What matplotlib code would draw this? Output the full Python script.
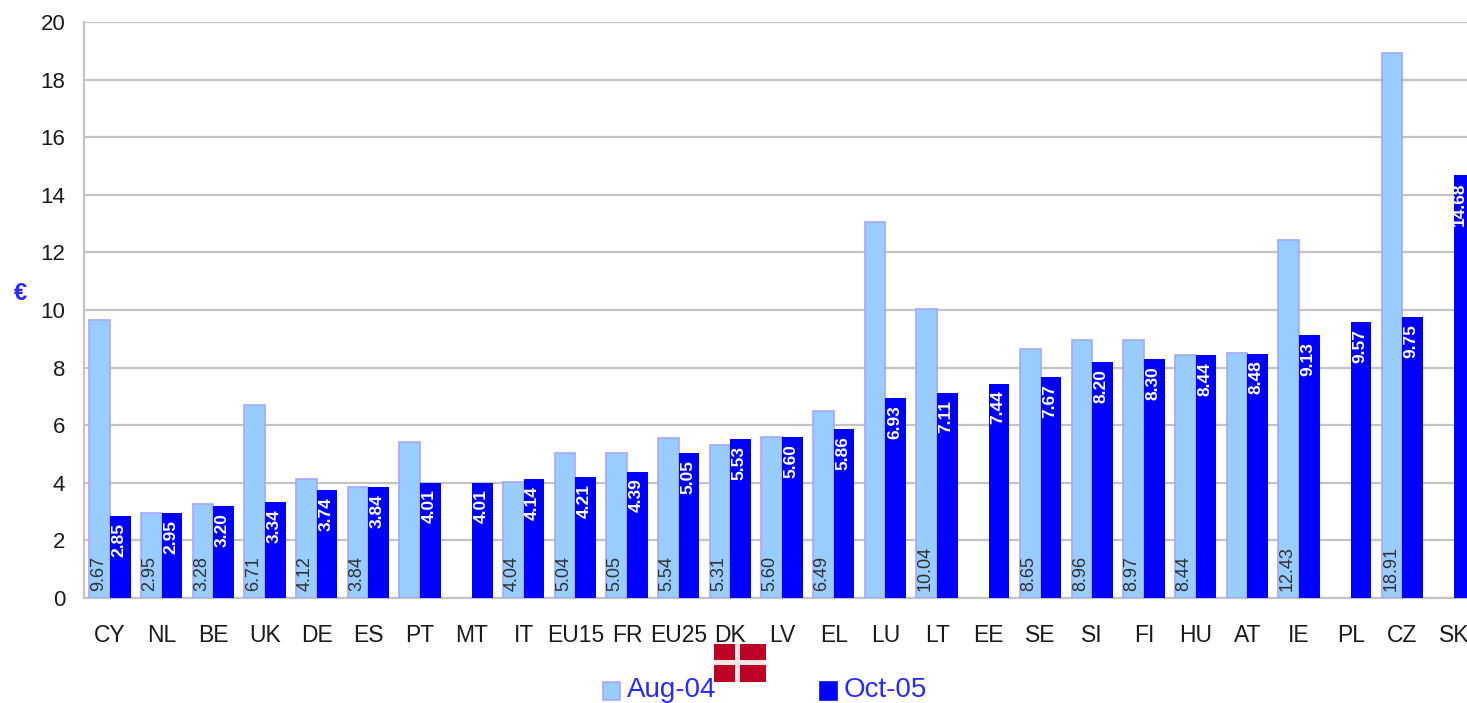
# -*- coding: utf-8 -*-
import matplotlib.pyplot as plt
from matplotlib.patches import Rectangle

plt.rcParams['font.family'] = ['Liberation Sans', 'DejaVu Sans']

countries = ["CY", "NL", "BE", "UK", "DE", "ES", "PT", "MT", "IT", "EU15", "FR", "EU25", "DK", "LV",
             "EL", "LU", "LT", "EE", "SE", "SI", "FI", "HU", "AT", "IE", "PL", "CZ", "SK"]

# None = no offer in that period
aug04 = [9.67, 2.95, 3.28, 6.71, 4.12, 3.84, 5.40, None, 4.04, 5.04, 5.05, 5.54, 5.31, 5.60,
         6.49, 13.04, 10.04, None, 8.65, 8.96, 8.97, 8.44, 8.49, 12.43, None, 18.91, None]
oct05 = [2.85, 2.95, 3.20, 3.34, 3.74, 3.84, 4.01, 4.01, 4.14, 4.21, 4.39, 5.05, 5.53, 5.60,
         5.86, 6.93, 7.11, 7.44, 7.67, 8.20, 8.30, 8.44, 8.48, 9.13, 9.57, 9.75, 14.68]

# these Aug-04 bars have no value printed on them
no_label = ["PT", "LU", "AT"]

W, H = 1467, 703
fig = plt.figure(figsize=(W / 100, H / 100), dpi=100)
ax = fig.add_axes([84 / W, 1 - 598 / H, 1 - 84 / W, 576 / H])

bar_w = 0.4
light = "#99ccff"
dark = "#0000ff"
for i, (a, b) in enumerate(zip(aug04, oct05)):
    if a is not None:
        ax.bar(i - bar_w / 2, a, bar_w, color=light, edgecolor="#a6a6ff", linewidth=1.2, zorder=3)
        if countries[i] not in no_label:
            ax.annotate("%.2f" % a, (i - bar_w / 2, 0), xytext=(-1, 5), textcoords="offset points",
                        rotation=90, ha="center", va="bottom", fontsize=13, color="#303030", zorder=5)
    ax.bar(i + bar_w / 2, b, bar_w, color=dark, zorder=4)
    # the last bar runs off the right edge, keep its value inside the frame
    dx = -3.5 if countries[i] == "SK" else -1
    ax.annotate("%.2f" % b, (i + bar_w / 2, b), xytext=(dx, -5), textcoords="offset points",
                rotation=90, ha="center", va="top", fontsize=12.5, color="white",
                fontweight="bold", zorder=5, annotation_clip=False)

ax.set_xlim(-0.503, 26.25)
ax.set_ylim(0, 20)
ax.set_yticks(range(0, 21, 2))
ax.set_xticks(range(len(countries)))
ax.set_xticklabels(countries)
ax.tick_params(axis="both", length=0, labelcolor="#1a1a1a")
ax.tick_params(axis="x", pad=18.5, labelsize=16.5)
ax.tick_params(axis="y", pad=13.5, labelsize=16)
ax.grid(axis="y", color="#c4c4c4", linewidth=1.6, zorder=0)
ax.set_axisbelow(True)
for s in ["top", "right"]:
    ax.spines[s].set_visible(False)
for s in ["left", "bottom"]:
    ax.spines[s].set_color("#c4c4c4")
    ax.spines[s].set_linewidth(1.6)

fig.text(20 / W, 1 - 293 / H, "€", color="#2a2aff", fontsize=17, fontweight="bold", ha="center", va="center")

# legend built by hand so both entries sit at their own spots
for x0, col, edge, txt in [(603, light, "#a6a6ff", "Aug-04"), (820, dark, dark, "Oct-05")]:
    fig.patches.append(Rectangle((x0 / W, 1 - 700 / H), 17 / W, 18 / H, transform=fig.transFigure,
                                 facecolor=col, edgecolor=edge, linewidth=1.2))
    fig.text((x0 + 24) / W, 1 - 690 / H, txt, color="#2a2aff", fontsize=20, ha="left", va="center")

# Danish flag under the DK label
flag_red = "#bd0026"
fig.patches.append(Rectangle((714 / W, 1 - 682 / H), 52 / W, 38 / H, transform=fig.transFigure,
                             facecolor=flag_red, edgecolor="none", zorder=6))
fig.patches.append(Rectangle((735 / W, 1 - 682 / H), 5 / W, 38 / H, transform=fig.transFigure,
                             facecolor="#f4e4e4", edgecolor="none", zorder=7))
fig.patches.append(Rectangle((714 / W, 1 - 665 / H), 52 / W, 5 / H, transform=fig.transFigure,
                             facecolor="#f4e4e4", edgecolor="none", zorder=7))

fig.savefig("out.png", dpi=100)
